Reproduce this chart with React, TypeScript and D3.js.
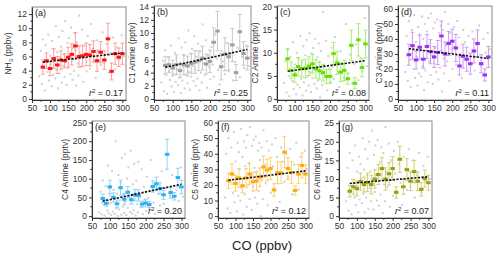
import React, { useEffect, useRef } from 'react';
import * as d3 from 'd3';

// CO bin centres (ppbv) used for the binned means
const bins = [80, 90, 100, 110, 120, 130, 140, 150, 160, 170, 180, 190, 200, 210, 220, 230, 240, 250, 260, 270, 280, 290, 300];

const nh3Mean = [4.5, 5.4, 4.3, 5.7, 4.8, 5.5, 5.4, 5.9, 6.3, 7.5, 6.0, 6.1, 6.3, 6.2, 6.7, 5.4, 6.6, 5.5, 8.5, 3.9, 6.4, 5.9, 6.4];
const nh3Err = [1.0, 1.1, 1.0, 1.4, 1.2, 1.3, 1.0, 1.4, 1.5, 1.9, 1.5, 1.5, 1.6, 1.5, 1.5, 1.5, 1.5, 1.3, 2.2, 1.2, 1.5, 1.3, 1.5];
const c1Mean = [5.1, 5.2, 4.7, 5.2, 4.3, 5.2, 5.0, 5.4, 5.6, 5.8, 6.2, 5.3, 5.7, 8.6, 10.3, 4.9, 6.8, 6.4, 8.2, 4.0, 10.2, 6.9, 6.2];
const c1Err = [1.3, 1.2, 1.2, 1.5, 1.0, 1.5, 1.5, 1.5, 1.7, 1.5, 1.8, 1.5, 1.7, 2.2, 3.0, 2.0, 2.5, 2.0, 2.5, 1.2, 2.6, 1.8, 1.8];
const c2Mean = [8.7, 6.2, 5.2, 7.0, 6.6, 6.6, 7.1, 7.6, 6.5, 6.1, 5.7, 4.9, 4.9, 9.8, 7.8, 5.8, 6.2, 4.4, 11.6, 3.4, 12.8, 6.8, 11.9];
const c2Err = [2.2, 1.8, 1.6, 2.0, 1.8, 2.0, 2.0, 2.0, 2.0, 1.8, 1.8, 1.5, 1.5, 2.4, 2.5, 2.0, 2.2, 1.2, 3.3, 1.2, 3.5, 2.0, 3.0];
const c3Mean = [29.5, 35.5, 26, 34.5, 26.5, 35, 31.5, 28, 31, 42, 30, 37, 38.5, 34, 22, 28.5, 26.5, 23.5, 32, 37, 23.5, 16, 28];
const c3Err = [7, 9, 6, 8, 6, 8, 8, 7, 8, 10, 8, 8, 8, 9, 6, 8, 8, 7, 8, 9, 6, 4, 7];
const c4Mean = [47, 34, 78, 50, 33, 76, 45, 64, 44, 56, 55, 32, 35, 31, 79, 86, 74, 57, 165, 63, 53, 103, 78];
const c4Err = [12, 8, 18, 12, 10, 20, 15, 15, 12, 15, 15, 8, 10, 8, 15, 18, 15, 12, 40, 15, 10, 25, 18];
const c5Mean = [22.7, 27, 21, 24.5, 19.5, 24.5, 27, 22, 22.5, 25, 31.5, 29.5, 30.5, 16.8, 27.8, 27.8, 41, 30.5, 28, 16.5, 27, 32.5, 27];
const c5Err = [5, 6.5, 5, 6, 4.5, 6, 6.5, 6, 6, 6, 7, 7, 7, 4, 7, 7, 10, 7, 7, 3, 6, 8, 6];
const c6Mean = [6.7, 7.9, 7.4, 9.3, 8.5, 9.1, 8.5, 10.0, 11.2, 12.8, 10.0, 11.4, 12.8, 6.4, 15.3, 7.9, 12.5, 9.4, 12.0, 9.4, 7.2, 10.1, 9.0];
const c6Err = [1.5, 2, 2, 2.3, 2, 2.5, 2.5, 2.5, 2.7, 3, 3, 3, 3.2, 1.5, 3.5, 2, 3, 2.5, 3, 2.5, 1.8, 2.3, 2];

// raw (1-min) samples, grey background
const co = [70, 74, 77, 80, 83, 85, 88, 90, 93, 95, 97, 100, 102, 104, 106, 108, 110, 112, 114, 116, 118, 120, 122, 124, 126, 128, 130, 132, 134, 136, 138, 140, 142, 144, 146, 148, 150, 152, 154, 156, 158, 160, 162, 164, 166, 168, 170, 172, 174, 176, 178, 180, 183, 186, 189, 192, 195, 198, 201, 204, 207, 210, 214, 218, 222, 226, 230, 235, 240, 245, 250, 256, 262, 268, 274, 280, 286, 292, 298, 304];
const nh3Raw = [3.2, 6.8, 2.1, 8.4, 4.5, 1.2, 7.6, 5.3, 3.8, 9.1, 2.6, 6.1, 4.9, 1.8, 8.2, 3.4, 7.0, 5.6, 2.9, 10.3, 4.1, 6.6, 1.5, 8.8, 3.6, 5.9, 7.4, 2.3, 9.6, 4.7, 6.3, 3.1, 11.0, 5.2, 2.0, 7.9, 4.4, 8.6, 6.0, 3.5, 10.1, 5.5, 2.7, 7.2, 4.0, 9.3, 6.9, 1.9, 8.0, 5.0, 3.3, 11.8, 6.4, 4.6, 9.8, 2.4, 7.5, 5.8, 3.9, 8.9, 6.2, 4.3, 10.6, 7.1, 5.4, 3.0, 8.3, 6.7, 4.8, 9.4, 5.1, 7.8, 3.7, 6.5, 8.7, 4.2, 7.3, 5.7, 9.0, 6.0];
const c1Raw = [2.5, 5.8, 1.2, 7.4, 3.6, 0.8, 6.3, 4.2, 2.9, 8.1, 1.9, 5.0, 3.8, 1.1, 7.0, 2.6, 6.2, 4.5, 2.1, 9.2, 3.2, 5.5, 0.9, 7.8, 2.8, 4.9, 6.6, 1.6, 8.6, 3.7, 5.3, 2.4, 10.4, 4.1, 1.4, 6.9, 3.4, 7.6, 5.0, 2.7, 9.5, 4.6, 2.0, 6.4, 3.1, 8.4, 5.9, 1.3, 7.2, 4.0, 2.5, 11.3, 5.4, 3.6, 8.9, 1.7, 6.6, 4.8, 3.0, 7.9, 5.2, 3.4, 9.8, 6.1, 4.4, 2.2, 7.3, 5.7, 3.8, 8.5, 4.2, 6.9, 2.8, 5.6, 7.8, 3.3, 6.4, 4.7, 8.1, 5.0];
const c2Raw = [3.5, 8.2, 1.4, 10.6, 5.0, 0.6, 9.1, 6.2, 3.9, 12.3, 2.2, 7.5, 5.6, 1.0, 10.0, 3.1, 8.8, 6.4, 2.5, 13.6, 4.4, 7.9, 0.8, 11.4, 3.6, 6.9, 9.5, 1.8, 12.8, 4.9, 7.2, 2.9, 14.2, 5.8, 1.5, 9.9, 4.5, 11.0, 6.8, 3.3, 13.0, 6.3, 2.3, 9.0, 4.0, 12.0, 8.1, 0.4, 10.4, 5.4, 3.0, 18.8, 7.4, 4.8, 12.6, 1.9, 9.3, 6.5, 3.7, 11.1, 7.0, 4.3, 13.4, 8.5, 5.9, 2.6, 10.3, 7.7, 4.6, 16.2, 5.5, 9.6, 3.4, 7.6, 11.8, 4.1, 8.9, 6.0, 17.5, 7.1];
const c3Raw = [18, 42, 12, 52, 26, 8, 46, 30, 20, 56, 14, 38, 28, 9, 48, 17, 43, 32, 15, 55, 22, 40, 6, 50, 19, 35, 45, 11, 54, 25, 37, 16, 57, 29, 10, 47, 24, 51, 34, 18, 53, 31, 13, 44, 21, 49, 39, 5, 46, 27, 17, 58, 36, 25, 50, 12, 44, 33, 20, 48, 35, 23, 52, 41, 30, 14, 46, 38, 26, 42, 28, 45, 19, 36, 49, 22, 40, 31, 44, 33];
const c4Raw = [10, 65, 5, 95, 30, 2, 80, 45, 15, 135, 8, 55, 35, 3, 120, 12, 70, 48, 6, 200, 20, 60, 1, 110, 18, 42, 90, 4, 155, 25, 58, 9, 165, 38, 3, 100, 22, 130, 52, 11, 175, 40, 7, 85, 16, 140, 62, 2, 95, 32, 10, 145, 50, 24, 125, 5, 78, 44, 14, 105, 48, 19, 150, 68, 36, 6, 92, 60, 28, 120, 33, 75, 12, 55, 110, 21, 70, 40, 130, 52];
const c5Raw = [12, 40, 5, 50, 22, 2, 44, 28, 15, 54, 9, 35, 25, 3, 47, 13, 41, 30, 10, 56, 18, 38, 1, 48, 14, 32, 44, 6, 52, 20, 34, 11, 57, 26, 4, 45, 19, 49, 31, 12, 51, 28, 8, 42, 16, 47, 36, 0, 44, 23, 11, 55, 33, 21, 48, 7, 42, 30, 15, 46, 32, 18, 50, 38, 27, 9, 44, 35, 22, 40, 25, 43, 14, 33, 47, 17, 38, 28, 42, 30];
const c6Raw = [4, 13, 1.5, 17, 7, 0.5, 15, 9, 5, 19, 3, 12, 8, 1, 16, 4.5, 14, 10, 3.5, 21, 6, 12.5, 1, 18, 5, 11, 15.5, 2, 20, 7.5, 12, 4, 23, 9.5, 1.8, 16.5, 6.5, 19, 11, 4.2, 20.5, 10, 2.8, 14.5, 5.8, 18.5, 13, 0.8, 17, 8.5, 4, 24, 12, 7.8, 19.5, 2.5, 15, 10.5, 5.5, 17.5, 11.5, 6.8, 20, 14, 9, 3, 16, 12.8, 7, 18, 8, 15, 5, 11, 17, 6.5, 13.5, 9.5, 16, 10];

// linear fits, value at CO = 80 and CO = 300
const fitX = [80, 300];
const nh3Fit = [5.2, 6.5];
const c1Fit = [4.8, 7.5];
const c2Fit = [6.0, 8.3];
const c3Fit = [33.5, 27];
const c4Fit = [40, 85];
const c5Fit = [23, 29];
const c6Fit = [8.8, 10.6];

const xTicks = [50, 100, 150, 200, 250, 300];

const panels = [
  { tag: '(a)', title: 'NH', sub: '3', unit: ' (ppbv)', mean: nh3Mean, err: nh3Err, raw: nh3Raw, fit: nh3Fit, r2: '0.17', yMax: 12, step: 2, lo: -0.15, hi: 13, box: [32, 126, 7, 100], off: 21, color: '#ff1414', light: '#ff9c9c' },
  { tag: '(b)', title: 'C1 Amine', sub: '', unit: ' (pptv)', mean: c1Mean, err: c1Err, raw: c1Raw, fit: c1Fit, r2: '0.25', yMax: 14, step: 2, lo: -0.15, hi: 14.1, box: [154, 251, 6, 100], off: 19, color: '#a0a0a0', light: '#c8c8c8' },
  { tag: '(c)', title: 'C2 Amine', sub: '', unit: ' (pptv)', mean: c2Mean, err: c2Err, raw: c2Raw, fit: c2Fit, r2: '0.08', yMax: 20, step: 5, lo: -0.2, hi: 20.1, box: [277, 369, 6, 100], off: 19, color: '#66e000', light: '#a6ee70' },
  { tag: '(d)', title: 'C3 Amine', sub: '', unit: ' (pptv)', mean: c3Mean, err: c3Err, raw: c3Raw, fit: c3Fit, r2: '0.11', yMax: 60, step: 10, lo: -0.7, hi: 62, box: [398, 492, 6, 100], off: 16, color: '#9b30f0', light: '#cc99f5' },
  { tag: '(e)', title: 'C4 Amine', sub: '', unit: ' (pptv)', mean: c4Mean, err: c4Err, raw: c4Raw, fit: c4Fit, r2: '0.20', yMax: 250, step: 50, lo: -5, hi: 254, box: [92, 185, 121, 218], off: 24, color: '#2fb0f0', light: '#90d2f7' },
  { tag: '(f)', title: 'C5 Amine', sub: '', unit: ' (pptv)', mean: c5Mean, err: c5Err, raw: c5Raw, fit: c5Fit, r2: '0.12', yMax: 60, step: 10, lo: -1.2, hi: 61, box: [218, 309, 121, 218], off: 20, color: '#ffaa10', light: '#ffd070' },
  { tag: '(g)', title: 'C6 Amine', sub: '', unit: ' (pptv)', mean: c6Mean, err: c6Err, raw: c6Raw, fit: c6Fit, r2: '0.07', yMax: 25, step: 5, lo: -0.5, hi: 25.6, box: [339, 432, 121, 218], off: 19, color: '#9c9c10', light: '#cfcf70' },
];

const font = 'Liberation Sans, Arial, sans-serif';

const App = () => {
  const svgRef = useRef(null);

  useEffect(() => {
    const svg = d3.select(svgRef.current);
    svg.selectAll('*').remove();

    panels.forEach(p => {
      const [x0, x1, y0, y1] = p.box;
      const x = d3.scaleLinear().domain([50, 310]).range([x0, x1]);
      const y = d3.scaleLinear().domain([p.lo, p.hi]).range([y1, y0]);
      const g = svg.append('g');

      // raw samples
      g.selectAll('.raw')
        .data(co.map((c, i) => [c, p.raw[i]]))
        .enter().append('rect')
        .attr('class', 'raw')
        .attr('x', d => x(d[0]) - 1)
        .attr('y', d => y(d[1]) - 1)
        .attr('width', 2)
        .attr('height', 2)
        .attr('fill', '#d0d0d0');

      // error bars
      bins.forEach((b, i) => {
        const cx = x(b);
        const top = y(p.mean[i] + p.err[i]);
        const bot = y(p.mean[i] - p.err[i]);
        g.append('line').attr('x1', cx).attr('x2', cx).attr('y1', top).attr('y2', bot)
          .attr('stroke', p.light).attr('stroke-width', 1);
        [top, bot].forEach(yy => {
          g.append('line').attr('x1', cx - 2).attr('x2', cx + 2).attr('y1', yy).attr('y2', yy)
            .attr('stroke', p.light).attr('stroke-width', 1);
        });
      });

      g.selectAll('.mk')
        .data(bins)
        .enter().append('rect')
        .attr('class', 'mk')
        .attr('x', d => x(d) - 2.25)
        .attr('y', (d, i) => y(p.mean[i]) - 1.5)
        .attr('width', 4.5)
        .attr('height', 3)
        .attr('fill', p.color);

      // fit line
      g.append('line')
        .attr('x1', x(fitX[0])).attr('y1', y(p.fit[0]))
        .attr('x2', x(fitX[1])).attr('y2', y(p.fit[1]))
        .attr('stroke', '#111')
        .attr('stroke-width', 1.6)
        .attr('stroke-dasharray', '2.2,1.4');

      // frame
      g.append('rect')
        .attr('x', x0).attr('y', y0)
        .attr('width', x1 - x0).attr('height', y1 - y0)
        .attr('fill', 'none').attr('stroke', '#888').attr('stroke-width', 1);

      const yTicks = d3.range(0, p.yMax + 1e-6, p.step);
      const yMinor = d3.range(p.step / 2, p.yMax, p.step);

      const yAxis = g.append('g')
        .attr('transform', `translate(${x0},0)`)
        .call(d3.axisLeft(y).tickValues(yTicks).tickSize(3).tickPadding(2).tickSizeOuter(0));
      yAxis.append('g').selectAll('line').data(yMinor).enter().append('line')
        .attr('x1', 0).attr('x2', -1.8).attr('y1', d => y(d)).attr('y2', d => y(d))
        .attr('stroke', '#333');

      const xAxis = g.append('g')
        .attr('transform', `translate(0,${y1})`)
        .call(d3.axisBottom(x).tickValues(xTicks).tickSize(3).tickPadding(2).tickSizeOuter(0));
      xAxis.append('g').selectAll('line').data([75, 125, 175, 225, 275]).enter().append('line')
        .attr('x1', d => x(d)).attr('x2', d => x(d)).attr('y1', 0).attr('y2', 1.8)
        .attr('stroke', '#333');

      [yAxis, xAxis].forEach(a => {
        a.attr('font-family', font).attr('font-size', 8.5);
        a.selectAll('text').attr('fill', '#333');
        a.selectAll('line').attr('stroke', '#333');
        a.select('path').attr('stroke', '#333');
      });

      // panel tag
      g.append('text')
        .attr('x', x0 + 3).attr('y', y0 + 9)
        .attr('font-family', font).attr('font-size', 9).attr('fill', '#222')
        .text(p.tag);

      // r^2
      const r = g.append('text')
        .attr('x', x1 - 3).attr('y', y1 - 4)
        .attr('text-anchor', 'end')
        .attr('font-family', font).attr('font-size', 9).attr('fill', '#222');
      r.append('tspan').attr('font-style', 'italic').text('r');
      r.append('tspan').attr('font-size', 6).attr('dy', -3.5).text('2');
      r.append('tspan').attr('dy', 3.5).text(' = ' + p.r2);

      // y title
      const t = g.append('text')
        .attr('transform', `translate(${x0 - p.off},${(y0 + y1) / 2}) rotate(-90)`)
        .attr('text-anchor', 'middle')
        .attr('font-family', font).attr('font-size', 8.5).attr('fill', '#333');
      t.append('tspan').text(p.title);
      if (p.sub) {
        t.append('tspan').attr('font-size', 6).attr('dy', 2).text(p.sub);
        t.append('tspan').attr('dy', -2).text(p.unit);
      } else {
        t.append('tspan').text(p.unit);
      }
    });

    svg.append('text')
      .attr('x', 262).attr('y', 250)
      .attr('text-anchor', 'middle')
      .attr('font-family', font).attr('font-size', 13).attr('fill', '#222')
      .text('CO (ppbv)');
  }, []);

  return (
    <svg ref={svgRef} width={500} height={256}
      style={{ position: 'absolute', left: 0, top: 0, background: '#fff' }} />
  );
};

export default App;
